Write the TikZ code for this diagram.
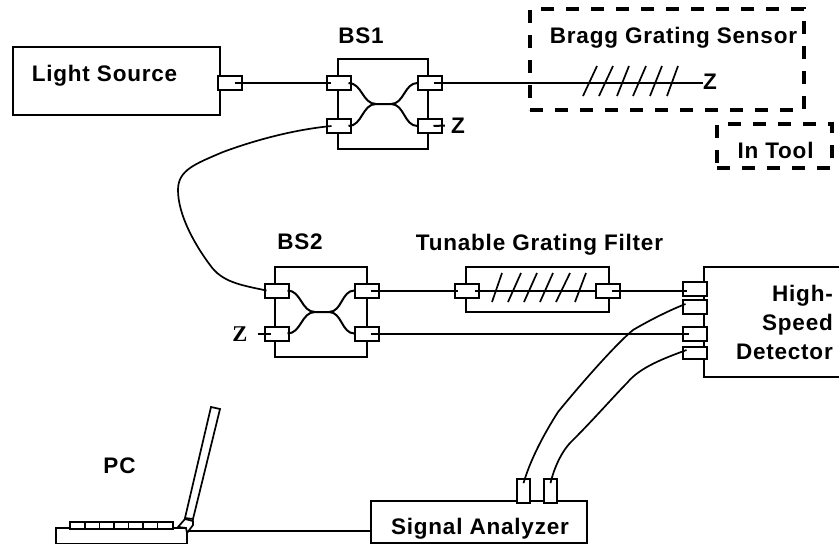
\documentclass[tikz,border=0pt]{standalone}
\usepackage{fontspec}
\setmainfont[LetterSpace=3.5]{Liberation Sans}
\newfontfamily\serifz{Liberation Serif}
\usetikzlibrary{positioning,calc}

\tikzset{
  box/.style={rectangle,draw,line width=2pt,inner sep=0pt},
  port/.style={rectangle,draw,fill=white,line width=2pt,inner sep=0pt,minimum width=24pt,minimum height=14pt},
  vport/.style={port,line width=1.7pt,minimum width=13pt,minimum height=24pt},
  dashbox/.style={rectangle,draw,line width=3.5pt,dash pattern=on 13pt off 12pt,inner sep=0pt},
  lbl/.style={font=\fontsize{22.5}{29}\selectfont\bfseries,inner sep=0pt,anchor=base},
  fiber/.style={line width=2pt},
  thin fiber/.style={line width=1.7pt}
}

\begin{document}
\begin{tikzpicture}[x=1pt,y=-1pt]
\useasboundingbox (0,0) rectangle (839,544);

% light source and first splitter
\node[box,minimum width=207pt,minimum height=68pt] (source) at (116,81) {};
\node[port] (sourceport) at (229.5,83) {};
\node at (104.5,81) [lbl] (sourcelbl) {Light Source};
\node[box,minimum width=90pt,minimum height=90pt] (bsa) at (383,104) {};
\node[port] (bsaLU) at (338.5,83) {};
\node[port] (bsaLD) at (338.5,126) {};
\node[port] (bsaRU) at (429.5,83) {};
\node[port] (bsaRD) at (429.5,126) {};
\node at (361,43) [lbl] (bsalbl) {BS1};
\coordinate (bsaW) at (376,104);
\coordinate (bsaE) at (391,104);
\draw[fiber] ([xshift=18pt]sourceport.west) -- ([xshift=5pt]bsaLU.west);
\draw[fiber] ([xshift=-3pt]bsaLU.east) to[out=0,in=180] (bsaW) -- (bsaE) to[out=0,in=180] ([xshift=1pt]bsaRU.west);
\draw[fiber] ([xshift=-3pt]bsaLD.east) to[out=0,in=180] (bsaW);
\draw[fiber] (bsaE) to[out=0,in=180] ([xshift=1pt]bsaRD.west);

% sensor in the tool
\node[dashbox,minimum width=274pt,minimum height=101pt] (bragg) at (667,59.5) {};
\node[dashbox,minimum width=115pt,minimum height=44pt] (tool) at (774.5,146) {};
\node at (673.5,43) [lbl] (bragglbl) {Bragg Grating Sensor};
\node at (775.5,158) [lbl] (toollbl) {In Tool};
\node[inner sep=0pt,font=\fontsize{22.5}{22}\selectfont\bfseries] (braggz) at (710,82) {Z};
\node[inner sep=0pt,font=\fontsize{22.5}{22}\selectfont\bfseries] (bsaz) at (458,125.5) {Z};
\draw[fiber] ([xshift=17pt]bsaRU.west) -- (braggz.west |- bsaRU.center);
\draw[fiber] ([xshift=17pt]bsaRD.west) -- ([xshift=-6pt]bsaz.west);
\draw[line width=1.7pt] (583,96) -- (597,66) (599,96) -- (613,66) (617,96) -- (629,66)
  (633,96) -- (646,66) (650,96) -- (662,66) (667,96) -- (678,66);

% second splitter
\node[box,minimum width=92pt,minimum height=90pt] (bsb) at (321,312) {};
\node[port] (bsbLU) at (276.5,290.5) {};
\node[port] (bsbLD) at (276.5,333.5) {};
\node[port] (bsbRU) at (366.5,290.5) {};
\node[port] (bsbRD) at (366.5,333.5) {};
\node at (300,249) [lbl] (bsblbl) {BS2};
\node[inner sep=0pt,font=\serifz\fontsize{22.5}{22}\selectfont\bfseries] (bsbz) at (240,334) {Z};
\coordinate (bsbW) at (315,312);
\coordinate (bsbE) at (329,312);
\draw[fiber] ([xshift=-2pt]bsbLU.east) to[out=0,in=180] (bsbW) -- (bsbE) to[out=0,in=180] ([xshift=1pt]bsbRU.west);
\draw[fiber] ([xshift=-2pt]bsbLD.east) to[out=0,in=180] (bsbW);
\draw[fiber] (bsbE) to[out=0,in=180] ([xshift=1pt]bsbRD.west);
\draw[fiber] ([xshift=-6pt]bsbLD.west) -- ([xshift=7pt]bsbLD.west);
\draw[thin fiber] ([xshift=6pt]bsaLD.west) .. controls (290,130) and (250,142) .. (223,152)
  .. controls (195,164) and (178,170) .. (178,190)
  .. controls (178,215) and (195,245) .. (210,265)
  .. controls (222,282) and (240,285) .. ([xshift=3pt]bsbLU.west);

% filter
\node[box,minimum width=143pt,minimum height=45pt] (filter) at (537.5,289.5) {};
\node[port] (filterL) at (466.5,291) {};
\node[port] (filterR) at (607.5,291) {};
\node at (539.5,250) [lbl] (filterlbl) {Tunable Grating Filter};
\draw[fiber] ([xshift=17pt]bsbRU.west) -- ([xshift=4pt]filterL.west |- bsbRU.center);
\draw[fiber] ([xshift=-5pt]filterL.east) -- (filterR.west);
\draw[line width=1.7pt] (492,302) -- (502,273) (508,302) -- (521,273) (524,302) -- (537,273)
  (540,302) -- (553,273) (556,302) -- (570,273) (575,302) -- (586,273);

% detector and analyzer
\node[box,minimum width=152pt,minimum height=110pt] (detector) at (780,322) {};
\node[port] (detA) at (694.5,289) {};
\node[port] (detB) at (694.5,307) {};
\node[port] (detC) at (694.5,334) {};
\node[port,minimum height=12pt] (detD) at (694.5,353) {};
\node[inner sep=0pt,anchor=east,align=right,font=\fontsize{22.5}{29}\selectfont\bfseries] (detectorlbl) at (833,322) {High-\\Speed\\Detector};
\node[box,minimum width=216pt,minimum height=42pt] (analyzer) at (479,522) {};
\node[vport] (anaA) at (523.5,491) {};
\node[vport] (anaB) at (550.5,491) {};
\node at (480,534) [lbl] (analyzerlbl) {Signal Analyzer};
\draw[fiber] ([xshift=17pt]filterR.west) -- ([xshift=5pt]detA.west |- filterR.center);
\draw[fiber] ([xshift=17pt]bsbRD.west) -- ([xshift=7pt]detC.west |- bsbRD.center);
\draw[thin fiber] ([yshift=-5pt]anaA.north) .. controls (528,468) and (537,445) .. (558,412)
  .. controls (580,385) and (615,345) .. (633,330) .. controls (650,320) and (670,310) .. ([xshift=4pt,yshift=3pt]detB.west);
\draw[thin fiber] ([yshift=-5pt]anaB.north) .. controls (554,468) and (562,450) .. (573,440)
  .. controls (595,418) and (615,395) .. (627,383) .. controls (640,367) and (665,358) .. ([xshift=5pt,yshift=3pt]detD.west);

% laptop
\node at (119.5,473) [lbl] (pclbl) {PC};
\node[box,line width=1.7pt,minimum width=131pt,minimum height=16pt] (laptop) at (121.5,536) {};
\node[box,line width=1.7pt,fill=white,minimum width=103pt,minimum height=7pt] (keys) at (121.5,525.5) {};
\draw[line width=1.5pt] (85,522) -- (85,529) (99.5,522) -- (99.5,529) (114,522) -- (114,529)
  (128.5,522) -- (128.5,529) (143,522) -- (143,529) (157.5,522) -- (157.5,529);
\draw[line width=1.7pt] (211,407) -- (220,409) -- (193,519) -- (185,518) -- cycle;
\draw[line width=1.7pt,fill=white] (178,527) -- (185,519) -- (193,521) -- (193,525) -- (187,533) -- (186,528) -- cycle;
\draw[fiber] (laptop.east |- 0,531) -- (analyzer.west |- 0,531);
\end{tikzpicture}
\end{document}
